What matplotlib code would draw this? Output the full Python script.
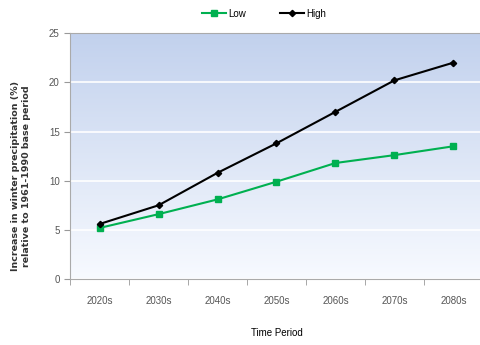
import numpy as np
import matplotlib
matplotlib.use('Agg')
from matplotlib import pyplot as plt

periods = ['2020s', '2030s', '2040s', '2050s', '2060s', '2070s', '2080s']
low = [5.2, 6.6, 8.1, 9.9, 11.8, 12.6, 13.5]
high = [5.6, 7.5, 10.8, 13.8, 17.0, 20.2, 22.0]

plt.rcParams['font.family'] = ['Liberation Sans', 'DejaVu Sans']

fig = plt.figure(figsize=(4.8, 3.45), dpi=100)
ax = fig.add_axes([0.146, 0.191, 0.86, 0.713])

# blue-to-white background gradient
grad = np.linspace(0, 1, 256).reshape(-1, 1)
top = np.array([0.76, 0.82, 0.93])
bot = np.array([0.97, 0.98, 1.0])
img = bot + (top - bot) * grad
ax.imshow(img[:, None, :].repeat(2, axis=1), extent=[0, 1, 0, 1], origin='lower',
          aspect='auto', transform=ax.transAxes, zorder=0)

x = np.arange(len(periods))
ax.plot(x, low, color='#00b050', marker='s', markersize=3.8, linewidth=1.5, label='Low', zorder=3)
ax.plot(x, high, color='black', marker='D', markersize=3.2, linewidth=1.5, label='High', zorder=3)

ax.set_xlim(-0.5, len(periods) - 0.5)
ax.set_ylim(0, 25)
ax.set_yticks([0, 5, 10, 15, 20, 25])
ax.set_xticks(x)
ax.set_xticklabels(periods)
ax.set_xticks(np.arange(-0.5, len(periods), 1), minor=True)
ax.tick_params(axis='x', which='major', length=0, pad=12)
ax.tick_params(axis='x', which='minor', length=4, color='#999999')
ax.tick_params(axis='y', length=4, color='#999999')
ax.tick_params(labelsize=7, labelcolor='#555555')
ax.grid(axis='y', color='white', linewidth=1.2, zorder=1)
ax.set_axisbelow(True)
for s in ['left', 'bottom', 'top']:
    ax.spines[s].set_color('#aaaaaa')
ax.spines['right'].set_visible(False)

ax.set_xlabel('Time Period', fontsize=7, labelpad=16)
ax.set_ylabel('Increase in winter precipitation (%)\nrelative to 1961-1990 base period',
              fontsize=6.8, fontweight='bold', family='DejaVu Sans', color='#333333',
              linespacing=1.3)
ax.yaxis.set_label_coords(-0.095, 0.42)

fig.legend(loc='upper center', bbox_to_anchor=(0.55, 1.0), ncol=2, frameon=False,
           fontsize=7, handlelength=2.5, columnspacing=3.5, handletextpad=0.2)

plt.savefig('out.png', dpi=100)
